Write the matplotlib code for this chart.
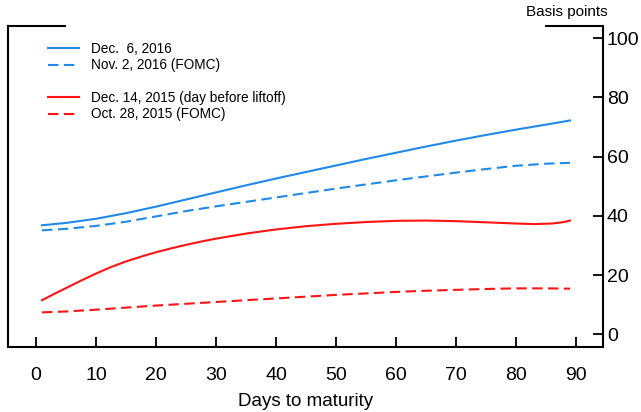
import matplotlib
matplotlib.use("Agg")
import matplotlib.pyplot as plt
from matplotlib.lines import Line2D

plt.rcParams['font.family'] = ['Liberation Sans', 'DejaVu Sans']

days = [1, 5, 10, 15, 20, 25, 30, 35, 40, 45, 50, 55, 60, 65, 70, 75, 80, 85, 89]
dec2016 = [36.8, 37.6, 39.0, 40.9, 43.1, 45.5, 47.9, 50.3, 52.6, 54.8, 57.0, 59.2, 61.3, 63.4, 65.4, 67.3, 69.1, 70.8, 72.2]
nov2016 = [35.1, 35.6, 36.6, 38.0, 39.8, 41.6, 43.2, 44.7, 46.2, 47.7, 49.2, 50.6, 52.0, 53.3, 54.6, 55.8, 56.9, 57.6, 57.9]
oct2015 = [7.4, 7.7, 8.3, 9.0, 9.7, 10.3, 10.9, 11.5, 12.1, 12.7, 13.3, 13.8, 14.3, 14.7, 15.0, 15.3, 15.5, 15.5, 15.4]

days_liftoff = [1, 3, 5, 7.5, 10, 12.5, 15, 17.5, 20, 22.5, 25, 27.5, 30, 35, 40, 45, 50, 55, 60, 65, 70, 75, 80, 83, 86, 88, 89]
dec2015 = [11.5, 13.6, 15.6, 18.1, 20.5, 22.7, 24.6, 26.2, 27.7, 29.0, 30.2, 31.3, 32.3, 34.0, 35.4, 36.5, 37.3, 37.9, 38.3, 38.4, 38.2, 37.8, 37.4, 37.2, 37.4, 37.9, 38.4]

labels = ["Dec.  6, 2016", "Nov. 2, 2016 (FOMC)",
          "Dec. 14, 2015 (day before liftoff)", "Oct. 28, 2015 (FOMC)"]
xticks = [0, 10, 20, 30, 40, 50, 60, 70, 80, 90]
yticks = [0, 20, 40, 60, 80, 100]

BLUE = '#2189e6'
RED = '#ff1414'
DASH = (5, 2.6)

fig = plt.figure(figsize=(6.41, 4.12), dpi=100)
ax = fig.add_axes([8/641, 1-347.3/412, (603.3-8)/641, (347.3-26)/412])

l1, = ax.plot(days, dec2016, color=BLUE, lw=1.5)
l2, = ax.plot(days, nov2016, color=BLUE, lw=1.5, dashes=DASH)
l3, = ax.plot(days_liftoff, dec2015, color=RED, lw=1.5)
l4, = ax.plot(days, oct2015, color=RED, lw=1.5, dashes=DASH)

ax.set_xlim(-4.67, 94.55)
ax.set_ylim(-4.4, 104.1)

ax.set_xticks(xticks)
ax.set_yticks(yticks)
ax.yaxis.tick_right()
ax.tick_params(axis='x', direction='in', length=7.2, width=1.3, labelsize=14, pad=14.5)
ax.tick_params(axis='y', direction='in', length=7.2, width=1.3, labelsize=14, pad=2.5,
               left=False, right=True, labelleft=False, labelright=True)

for s in ['left', 'right', 'bottom']:
    ax.spines[s].set_linewidth(1.5)
ax.spines['top'].set_visible(False)
ax.plot([0, 0.0975], [1, 1], transform=ax.transAxes, color='black', lw=1.5,
        clip_on=False, solid_capstyle='butt')
ax.plot([0.9025, 1.0], [1, 1], transform=ax.transAxes, color='black', lw=1.5,
        clip_on=False, solid_capstyle='butt')

ax.set_xlabel("Days to maturity", fontsize=13.5, labelpad=6.5)
ax.text(1.008, 1.044, "Basis points", transform=ax.transAxes, ha='right', va='center',
        fontsize=11)

blank = Line2D([], [], color='none')
leg = ax.legend([l1, l2, blank, l3, l4], [labels[0], labels[1], "", labels[2], labels[3]],
                loc='upper left', bbox_to_anchor=(0.067, 0.95), frameon=False,
                fontsize=9.8, handlelength=2.3, handletextpad=0.85,
                labelspacing=0.17, borderaxespad=0, borderpad=0)

fig.savefig("out.png", dpi=100)
